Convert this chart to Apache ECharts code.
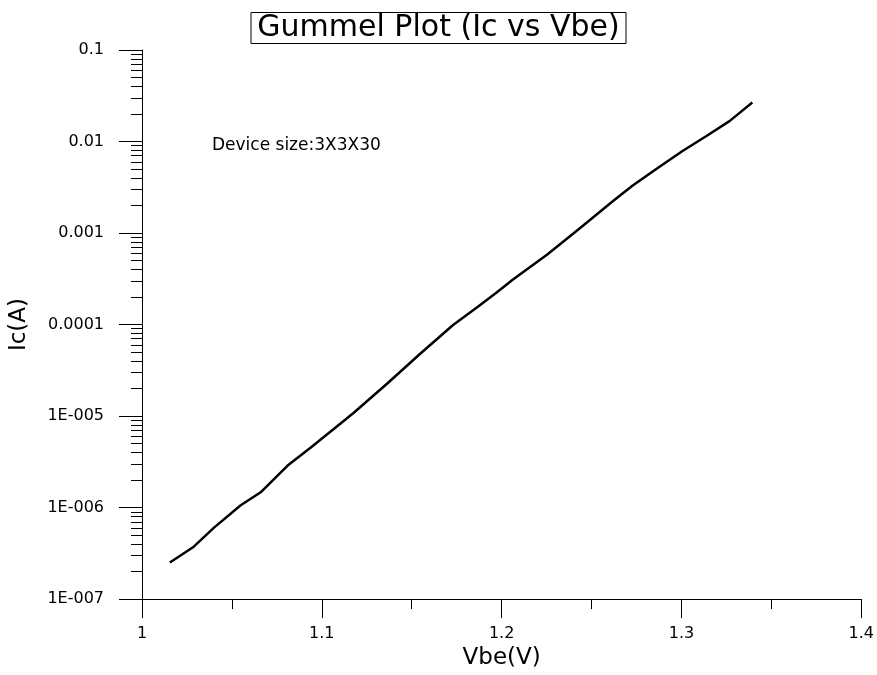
<!DOCTYPE html>
<html>
<head>
<meta charset="utf-8">
<title>Gummel Plot</title>
<script src="https://cdn.jsdelivr.net/npm/echarts@6/dist/echarts.min.js"></script>
<style>
  html, body { margin: 0; padding: 0; background: #fff; }
  #chart { width: 877px; height: 675px; }
</style>
</head>
<body>
<div id="chart"></div>
<script>
// data
var vbe = [1.0155, 1.0288, 1.0399, 1.0549, 1.0660, 1.0810, 1.0937, 1.1087, 1.1176, 1.1364,
           1.1547, 1.1730, 1.1864, 1.1974, 1.2063, 1.2252, 1.2435, 1.2618, 1.2729, 1.2862,
           1.3006, 1.3139, 1.3267, 1.3394];
var ic = [2.51e-7, 3.74e-7, 6.0e-7, 1.06e-6, 1.47e-6, 2.88e-6, 4.51e-6, 7.8e-6, 1.08e-5, 2.27e-5,
          4.80e-5, 9.88e-5, 1.55e-4, 2.25e-4, 3.10e-4, 5.78e-4, 1.13e-3, 2.22e-3, 3.30e-3, 5.04e-3,
          7.89e-3, 1.15e-2, 1.67e-2, 2.67e-2];

var yTickValues = [1e-7, 1e-6, 1e-5, 1e-4, 1e-3, 1e-2, 1e-1];
var yTickLabels = ['1E-007', '1E-006', '1E-005', '0.0001', '0.001', '0.01', '0.1'];
var yMinorValues = [];
for (var d = 0; d < yTickValues.length - 1; d++) {
    for (var k = 2; k <= 9; k++) {
        yMinorValues.push(k * yTickValues[d]);
    }
}

var seriesData = [];
for (var i = 0; i < vbe.length; i++) {
    seriesData.push([vbe[i], ic[i]]);
}

var font = '"DejaVu Sans", Arial, sans-serif';

var myChart = echarts.init(document.getElementById('chart'));
var option = {
    animation: false,
    backgroundColor: '#fff',
    title: {
        text: 'Gummel Plot (Ic vs Vbe)',
        left: 'center',
        top: 12,
        padding: [1, 7, 1, 7],
        borderColor: '#000',
        borderWidth: 1,
        textStyle: { fontFamily: font, fontSize: 30, fontWeight: 'normal', color: '#000' }
    },
    graphic: [{
        type: 'text',
        left: 212,
        top: 137,
        style: { text: 'Device size:3X3X30', font: '17px ' + font, fill: '#000' }
    }],
    grid: { left: 141, right: 15, top: 50, bottom: 70, containLabel: false },
    xAxis: {
        type: 'value',
        min: 1,
        max: 1.4,
        interval: 0.1,
        name: 'Vbe(V)',
        nameLocation: 'middle',
        nameGap: 46,
        nameTextStyle: { fontFamily: font, fontSize: 23, color: '#000' },
        axisLine: { show: true, lineStyle: { color: '#000', width: 1 } },
        axisTick: { show: true, length: 19, lineStyle: { color: '#000' } },
        minorTick: { show: true, splitNumber: 2, length: 10, lineStyle: { color: '#000' } },
        splitLine: { show: false },
        axisLabel: { margin: 27, fontFamily: font, fontSize: 16, color: '#000' }
    },
    yAxis: [{
        type: 'log',
        logBase: 10,
        min: 1e-7,
        max: 0.1,
        name: 'Ic(A)',
        nameLocation: 'middle',
        nameGap: 111,
        nameRotate: 90,
        nameTextStyle: { fontFamily: font, fontSize: 23, color: '#000' },
        axisLine: { show: true, lineStyle: { color: '#000', width: 1 } },
        axisTick: { show: true, length: 23, customValues: yTickValues, lineStyle: { color: '#000' } },
        splitLine: { show: false },
        axisLabel: {
            margin: 38,
            customValues: yTickValues,
            fontFamily: font,
            fontSize: 16,
            color: '#000',
            formatter: function (v) {
                for (var j = 0; j < yTickValues.length; j++) {
                    if (Math.abs(Math.log10(v) - Math.log10(yTickValues[j])) < 1e-6) return yTickLabels[j];
                }
                return '';
            }
        }
    }, {
        type: 'log',
        logBase: 10,
        min: 1e-7,
        max: 0.1,
        position: 'left',
        axisLine: { show: false },
        axisTick: { show: true, length: 11, customValues: yMinorValues, lineStyle: { color: '#000' } },
        splitLine: { show: false },
        axisLabel: { show: false }
    }],
    series: [{
        type: 'line',
        yAxisIndex: 0,
        data: seriesData,
        showSymbol: false,
        symbol: 'none',
        lineStyle: { color: '#000', width: 2.5 }
    }]
};
myChart.setOption(option);
</script>
</body>
</html>
